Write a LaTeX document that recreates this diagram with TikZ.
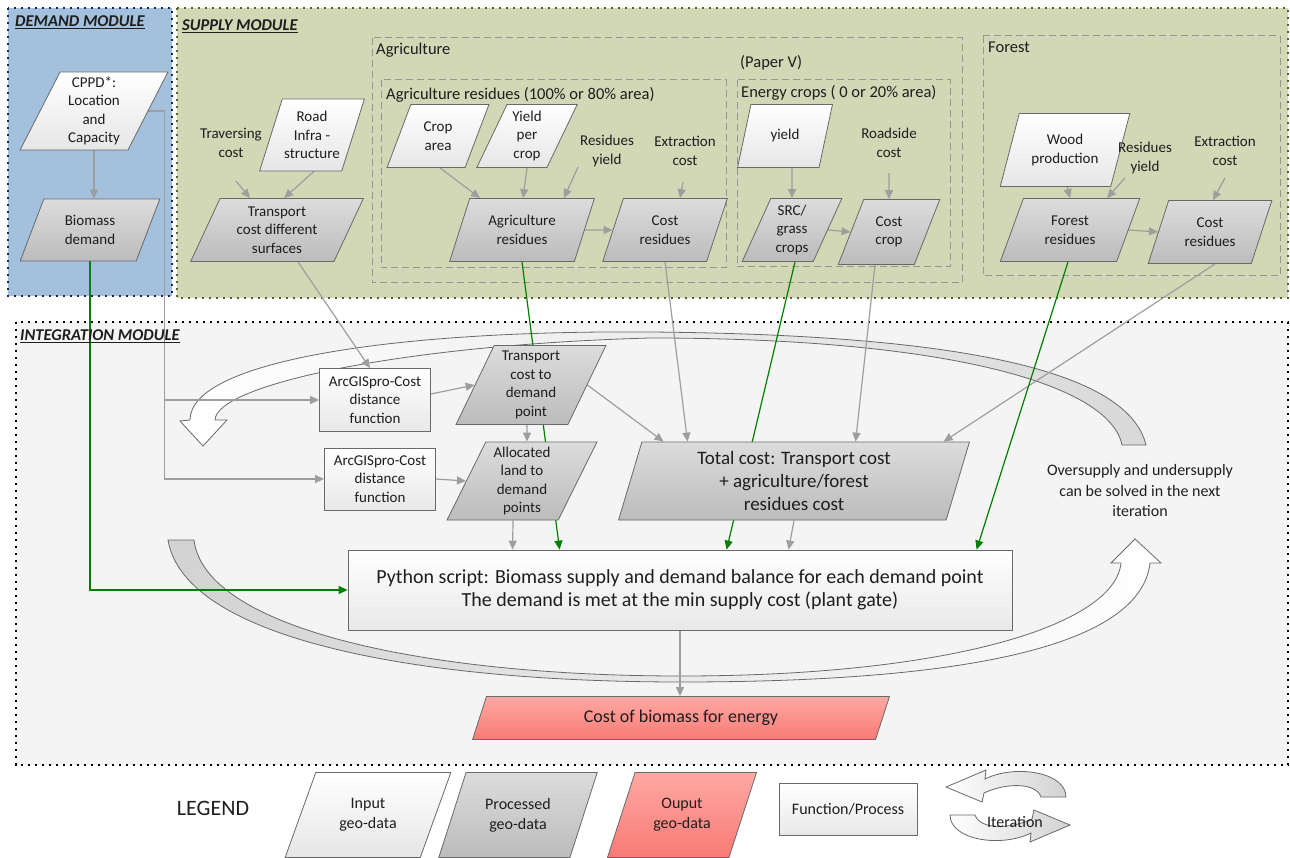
\documentclass[tikz,border=0pt]{standalone}
\usepackage{fontspec}
\setmainfont{Carlito}
\usetikzlibrary{shapes.geometric,arrows.meta,calc,positioning}

\definecolor{demandblue}{RGB}{163,192,221}
\definecolor{demandborder}{RGB}{25,35,95}
\definecolor{supplygreen}{RGB}{210,215,182}
\definecolor{supplyborder}{RGB}{95,95,35}
\definecolor{integrgray}{RGB}{244,244,244}
\definecolor{nodeborder}{RGB}{105,105,105}
\definecolor{infill}{RGB}{230,230,230}
\definecolor{proctop}{RGB}{220,220,220}
\definecolor{procbot}{RGB}{188,188,188}
\definecolor{outtop}{RGB}{255,168,162}
\definecolor{outbot}{RGB}{248,122,118}
\definecolor{funcfill}{RGB}{232,232,232}
\definecolor{linkgray}{RGB}{158,158,158}
\definecolor{linkgreen}{RGB}{0,128,0}
\definecolor{groupgray}{RGB}{150,150,150}
\definecolor{textdark}{RGB}{30,30,30}

\pgfdeclarelayer{back}
\pgfdeclarelayer{lines}
\pgfsetlayers{back,lines,main}

\newcommand{\geofont}{\fontsize{15}{18.5}\selectfont}
\newcommand{\grpfont}{\fontsize{16.5}{20}\selectfont}
\newcommand{\bigfont}{\fontsize{19}{23}\selectfont}
\newcommand{\legfont}{\fontsize{16}{20}\selectfont}

\tikzset{
  sz/.style 2 args={minimum width=#1pt, minimum height=#2pt},
  geo/.style={trapezium, trapezium left angle=66, trapezium right angle=114,
    trapezium stretches=true, draw=nodeborder, line width=0.8pt, align=center,
    inner sep=0pt, font=\geofont, text=textdark},
  indata/.style={geo, top color=white, bottom color=infill},
  procdata/.style={geo, top color=proctop, bottom color=procbot},
  outdata/.style={geo, top color=outtop, bottom color=outbot},
  funcbox/.style={rectangle, draw=nodeborder, line width=0.8pt, top color=white,
    bottom color=funcfill, align=center, inner sep=0pt, font=\geofont, text=textdark},
  txt/.style={align=center, font=\geofont, inner sep=0pt, text=textdark},
  grouplabel/.style={anchor=west, font=\grpfont, inner sep=0pt, text=textdark},
  modtitle/.style={anchor=west, font=\fontsize{16.5}{19}\selectfont\bfseries\itshape,
    inner sep=0pt, text=textdark},
  group/.style={draw=groupgray, line width=1pt, dash pattern=on 7pt off 4pt},
  module/.style={line width=2.2pt, dash pattern=on 2.2pt off 4.8pt},
  link/.style={draw=linkgray, line width=1.2pt, -{Triangle[length=9pt,width=8pt]}},
  greenlink/.style={link, draw=linkgreen},
  iter/.style={draw=nodeborder, line width=0.8pt},
}

\begin{document}
\begin{tikzpicture}[x=1pt, y=-1pt]
\useasboundingbox (0,0) rectangle (1290,858);

% modules
\begin{pgfonlayer}{back}
  \fill[white] (0,0) rectangle (1290,858);
  \fill[demandblue] (8,8) rectangle (172,296);
  \draw[module, draw=demandborder] (8,8) rectangle (172,296);
  \fill[supplygreen] (177,8) rectangle (1288,298);
  \draw[module, draw=supplyborder] (177,8) rectangle (1288,298);
  \fill[integrgray] (16,322) rectangle (1288,765);
  \draw[module, draw=black] (16,322) rectangle (1288,765);
  \draw[group] (372,38) rectangle (962,283);
  \draw[group] (381,80) rectangle (726,268);
  \draw[group] (737,80) rectangle (950,267);
  \draw[group] (983,36) rectangle (1280,276);
  % iteration arrows
  \draw[iter, left color=white, right color=gray!30]
    (1146,445) .. controls (1130,380) and (1000,335) .. (650,332)
    .. controls (400,330) and (190,360) .. (190,420)
    -- (180,421) -- (203,446) -- (227,420) -- (215,420)
    .. controls (216,385) and (400,345) .. (650,338)
    .. controls (950,338) and (1110,385) .. (1122,445) -- cycle;
  \draw[iter, left color=gray!35, right color=white]
    (168,540) .. controls (185,640) and (420,682) .. (681,682)
    .. controls (950,682) and (1140,650) .. (1150,563)
    -- (1161,563) -- (1135,539) -- (1111,563) -- (1121,563)
    .. controls (1115,625) and (950,676) .. (681,676)
    .. controls (430,676) and (205,630) .. (194,540) -- cycle;
\end{pgfonlayer}

\node[modtitle] (demandtitle) at (15,22) {\underline{DEMAND MODULE}};
\node[modtitle] (supplytitle) at (182,26) {\underline{SUPPLY MODULE}};
\node[modtitle] (integrtitle) at (20,336) {\underline{INTEGRATION MODULE}};

\node[grouplabel] (agrilbl) at (376,50) {Agriculture};
\node[grouplabel] (paperlbl) at (740,63) {(Paper V)};
\node[grouplabel] (agreslbl) at (386,95) {Agriculture residues (100\% or 80\% area)};
\node[grouplabel] (energylbl) at (741,93) {Energy crops ( 0 or 20\% area)};
\node[grouplabel] (forestlbl) at (988,47) {Forest};

% demand module
\node[indata, sz={148}{78}] (cppd) at (94,111) {CPPD*:\\Location\\and\\Capacity};
\node[procdata, sz={140}{62}] (bdemand) at (90,230) {Biomass\\demand};

% supply module
\node[txt] (travcost) at (231,143) {Traversing\\cost};
\node[indata, sz={105}{72}] (road) at (312,135) {Road\\Infra -\\structure};
\node[procdata, sz={173}{63}] (tsurf) at (277,230) {Transport\\cost different\\surfaces};

\node[indata, sz={102}{63}] (croparea) at (438,136) {Crop\\area};
\node[indata, sz={101}{63}] (yieldcrop) at (527,136) {Yield\\per\\crop};
\node[txt] (resyield) at (607,151) {Residues\\yield};
\node[txt] (extcost) at (685,151) {Extraction\\cost};
\node[procdata, sz={145}{63}] (agres) at (522,230) {Agriculture\\residues};
\node[procdata, sz={125}{63}] (costres) at (665,230) {Cost\\residues};

\node[indata, sz={95}{63}] (ecyield) at (785,136) {yield};
\node[txt] (roadside) at (889,143) {Roadside\\cost};
\node[procdata, sz={100}{63}] (src) at (792,230) {SRC/\\grass\\crops};
\node[procdata, sz={102}{65}] (costcrop) at (889,232) {Cost\\crop};

\node[indata, sz={130}{73}] (wood) at (1065,150) {Wood\\production};
\node[txt] (fresyield) at (1145,158) {Residues\\yield};
\node[txt] (fextcost) at (1225,151) {Extraction\\cost};
\node[procdata, sz={140}{63}] (fres) at (1070,230) {Forest\\residues};
\node[procdata, sz={124}{63}] (fcostres) at (1210,232) {Cost\\residues};

% integration module
\node[funcbox, sz={111}{63}] (arc1) at (375,400) {ArcGISpro-Cost\\distance\\function};
\node[funcbox, sz={111}{62}] (arc2) at (380,479) {ArcGISpro-Cost\\distance\\function};
\node[procdata, sz={150}{79}] (tcdp) at (531,385) {Transport\\cost to\\demand\\point};
\node[procdata, sz={150}{78}] (alloc) at (522,481) {Allocated\\land to\\demand\\points};
\node[procdata, sz={352}{78}, trapezium left angle=76, trapezium right angle=104,
  font=\bigfont] (total) at (794,481) {Total cost: Transport cost\\+ agriculture/forest\\residues cost};
\node[txt, font=\fontsize{16}{20.5}\selectfont] (oversupply) at (1140,491)
  {Oversupply and undersupply\\can be solved in the next\\iteration};
\node[funcbox, sz={664}{80}, font=\fontsize{20}{23.5}\selectfont] (python) at (680,590)
  {Python script: Biomass supply and demand balance for each demand point\\The demand is met at the min supply cost (plant gate)};
\node[outdata, sz={418}{43}, font=\fontsize{18}{22}\selectfont] (costbio) at (681,718) {Cost of biomass for energy};

% connectors
\begin{pgfonlayer}{lines}
  \draw[link] (cppd.center) -- (cppd.center |- bdemand.north);
  \draw[link] ($(travcost)+(5,38)$) -- ($(tsurf.north)+(-27,0)$);
  \draw[link] ($(road.south)+(2,0)$) -- ($(tsurf.north)+(7,0)$);
  \draw[link] ($(croparea.south)+(2,0)$) -- ($(agres.north)+(-42,0)$);
  \draw[link] (yieldcrop.south) -- ($(agres.north)+(1,0)$);
  \draw[link] ($(resyield)+(-29,16)$) -- ($(agres.north)+(42,0)$);
  \draw[link] ($(extcost)+(-2,31)$) -- ($(costres.north)+(15,0)$);
  \draw[link] (agres.east) -- (costres.west);
  \draw[link] ($(ecyield.south)+(7,0)$) -- (src.north);
  \draw[link] ($(roadside)+(0,30)$) -- (costcrop.north);
  \draw[link] (src.east) -- (costcrop.west);
  \draw[link] ($(wood.south)+(2,0)$) -- (fres.north);
  \draw[link] ($(fresyield)+(-20,20)$) -- ($(fres.north)+(37,0)$);
  \draw[link] ($(fextcost)+(0,27)$) -- ($(fcostres.north)+(3,0)$);
  \draw[link] (fres.east) -- (fcostres.west);

  \draw[link] (cppd.east) -- ++(16,0) coordinate (cppdbend) |- (arc2.west);
  \draw[link] (cppdbend |- arc1.west) -- (arc1.west);
  \draw[link] ($(tsurf.south)+(21,0)$) -- ($(arc1.north)+(-5,0)$);
  \draw[link] ($(arc1.east)+(0,-6)$) -- (tcdp.west);
  \draw[link] (arc2.east) -- (alloc.west);
  \draw[link] ($(tcdp.south)+(-4,0)$) -- ($(alloc.north)+(5,0)$);
  \draw[link] (tcdp.east) -- ($(total.top left corner)+(22,0)$);
  \draw[link] (costres.south) -- ($(total.top left corner)+(46,0)$);
  \draw[link] ($(costcrop.south)+(-14,0)$) -- ($(total.top left corner)+(214,0)$);
  \draw[link] ($(fcostres.south)+(5,0)$) -- ($(total.top left corner)+(302,0)$);
  \draw[link] ($(alloc.south)+(-9,0)$) -- ($(python.north west)+(165,0)$);
  \draw[link] (total.south) -- ($(python.north west)+(441,0)$);
  \draw[link] (python.south) -- (python.south |- costbio.north);

  \draw[greenlink] (bdemand.center) |- (python.west);
  \draw[greenlink] (agres.south) -- ($(python.north west)+(212,0)$);
  \draw[greenlink] ($(src.south)+(3,0)$) -- ($(python.north west)+(379,0)$);
  \draw[greenlink] ($(fres.south)+(-2,0)$) -- ($(python.north west)+(629,0)$);
\end{pgfonlayer}

% legend
\node[font=\fontsize{22}{26}\selectfont, text=textdark] (legendlbl) at (213,808) {LEGEND};
\node[indata, sz={167}{85}, trapezium left angle=63, trapezium right angle=117,
  font=\legfont] (leginput) at (368,815) {Input\\geo-data};
\node[procdata, sz={160}{85}, trapezium left angle=63, trapezium right angle=117,
  font=\legfont] (legproc) at (518,815) {Processed\\geo-data};
\node[outdata, sz={150}{85}, trapezium left angle=63, trapezium right angle=117,
  font=\legfont] (legout) at (682,815) {Ouput\\geo-data};
\node[funcbox, sz={138}{52}, font=\legfont] (legfunc) at (848,809) {Function/Process};
\draw[iter, left color=white, right color=gray!35]
  (1066,797) .. controls (1066,772) and (1015,764) .. (985,779)
  -- (986,770) -- (946,787) -- (982,802) -- (984,793)
  .. controls (1005,783) and (1036,782) .. (1041,797) -- cycle;
\draw[iter, left color=white, right color=gray!35, rotate around={180:(1008,806)}]
  (1066,797) .. controls (1066,772) and (1015,764) .. (985,779)
  -- (986,770) -- (946,787) -- (982,802) -- (984,793)
  .. controls (1005,783) and (1036,782) .. (1041,797) -- cycle;
\node[txt, font=\legfont] (iterlbl) at (1015,822) {Iteration};
\end{tikzpicture}
\end{document}
